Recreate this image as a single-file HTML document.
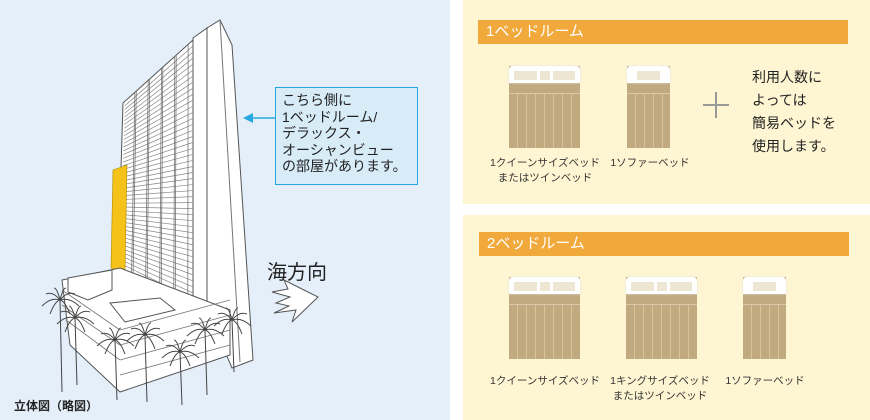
<!DOCTYPE html>
<html><head><meta charset="utf-8"><style>
body{margin:0;width:870px;height:420px;overflow:hidden;background:#fff;font-family:"Liberation Sans","Noto Sans CJK JP",sans-serif;position:relative}
.a{position:absolute}
.lp{left:0;top:0;width:450px;height:420px;background:#e4eff9}
.box{left:463px;width:407px;background:#fef6d3}
.hd{background:#f2a93b;color:#fff;font-size:15px;line-height:24px;padding-left:8px;height:24px}
.lbl{font-size:10.5px;color:#333;text-align:center;line-height:15px;white-space:nowrap}
.bed{position:absolute;background:#c2aa80}
.bed .hb{position:absolute;left:0;right:0;top:0;height:17px;background:#fff;border-radius:4px 4px 0 0;box-shadow:0 0 2px #ddd}
.bed .p{position:absolute;top:5px;height:9px;background:#ece6d3}
.bed .st{position:absolute;left:0;right:0;top:27px;bottom:0;border-top:1px solid #d9c9a8;background:repeating-linear-gradient(90deg,#c2aa80 0 8px,#d6c49f 8px 9px)}
</style></head><body>
<div class="a lp"></div>
<svg id="bld" class="a" style="left:0;top:0" width="450" height="420" viewBox="0 0 450 420">
<polygon points="207,28 220,20 232,45 253,360 232,368 207,310" fill="#fff" stroke="#555" stroke-width="1"/>
<line x1="220" y1="20" x2="240" y2="362" stroke="#777"/>
<polygon points="193,38 207,28 207,310 193,305" fill="#fff" stroke="#555"/>
<polygon points="123,103 193,40 193,305 118,268" fill="#fff" stroke="#555"/>
<g id="fac" stroke="#888" stroke-width=".7"></g>
<polygon points="113,170 127,165 125,272 111,268" fill="#f5c21a" stroke="#b08a00" stroke-width=".6"/>
<polygon points="62,280 120,268 230,310 230,355 120,392 70,345" fill="#fff" stroke="#555"/>
<polygon points="68,278 112,270 112,290 88,300 68,292" fill="#fff" stroke="#555"/>
<polygon points="110,303 160,298 175,310 125,322" fill="#fff" stroke="#555"/>
<g stroke="#777" stroke-width=".8" fill="none">
<path d="M120,330 L230,300 M120,345 L230,315 M120,360 L230,330 M120,375 L230,345"/>
<path d="M62,290 L120,330 M62,305 L120,345 M66,320 L120,360"/>
</g>
<g id="palms" stroke="#444" fill="none" stroke-width="1"></g>
<polygon points="272,292 288,289 284,280 318,297 292,322 296,310 274,313 289,306 276,303 290,297" fill="#fff" stroke="#555"/>
<line x1="275" y1="118" x2="250" y2="118" stroke="#29a8e0" stroke-width="1.5"/>
<polygon points="243,118 253,113 253,123" fill="#29a8e0"/>
</svg>
<script>
(function(){
var g=document.getElementById('fac'),s='';
for(var i=1;i<44;i++){var t=i/44;var lx=123-5*t,ly=103+165*t,ry=40+265*t;s+='<line x1="'+(lx+2)+'" y1="'+(ly-1)+'" x2="193" y2="'+ry+'"/>';}
[0.17,0.19,0.36,0.38,0.55,0.57,0.74,0.76,0.93].forEach(function(f){var x=123+70*f;var yt=103-63*f,yb=268+37*f;s+='<line x1="'+x+'" y1="'+yt+'" x2="'+(x-4*(1-f))+'" y2="'+yb+'" stroke="#666"/>';});
g.innerHTML=s;
var p=document.getElementById('palms'),q='';
[[60,300,392],[75,318,385],[115,340,400],[145,335,402],[180,352,405],[205,330,395],[232,320,372]].forEach(function(a){var x=a[0],y=a[1];
q+='<path d="M'+x+','+y+' L'+(x+2)+','+a[2]+'"/>';
[[-18,6],[-14,-6],[-6,-12],[6,-12],[15,-6],[19,6],[-10,14],[10,14]].forEach(function(d){q+='<path d="M'+x+','+y+' q'+(d[0]/2)+','+(d[1]/2-6)+' '+d[0]+','+d[1]+'"/>';});});
p.innerHTML=q;
})();
</script>
<div class="a" style="left:275px;top:87px;border:1.5px solid #29a8e0;background:#d8ecf8;font-size:14px;line-height:16.5px;color:#222;padding:4px 0 0 6px;box-sizing:border-box;width:143px;height:98px">こちら側に<br>1ベッドルーム/<br>デラックス・<br>オーシャンビュー<br>の部屋があります。</div>
<div class="a" style="left:267px;top:256px;font-size:20px;color:#222">海方向</div>
<div class="a" style="left:14px;top:397px;font-size:12px;font-weight:bold;color:#222">立体図（略図）</div>

<div class="a box" style="top:0;height:204px"></div>
<div class="a box" style="top:215px;height:205px"></div>
<div class="a hd" style="left:478px;top:20px;width:362px">1ベッドルーム</div>
<div class="a hd" style="left:479px;top:232px;width:362px">2ベッドルーム</div>

<div class="bed" style="left:509px;top:66px;width:71px;height:82px"><div class="hb"><div class="p" style="left:5px;width:23px"></div><div class="p" style="left:31px;width:10px"></div><div class="p" style="left:44px;width:22px"></div></div><div class="st"></div></div>
<div class="bed" style="left:627px;top:66px;width:43px;height:82px"><div class="hb"><div class="p" style="left:10px;width:23px"></div></div><div class="st"></div></div>
<div class="a" style="left:703px;top:104px;width:26px;height:2px;background:#999"></div>
<div class="a" style="left:715px;top:92px;width:2px;height:26px;background:#999"></div>
<div class="a" style="left:752px;top:66px;font-size:14px;line-height:23px;color:#222">利用人数に<br>よっては<br>簡易ベッドを<br>使用します。</div>
<div class="a lbl" style="left:485px;top:156px;width:120px">1クイーンサイズベッド<br>またはツインベッド</div>
<div class="a lbl" style="left:600px;top:156px;width:100px">1ソファーベッド</div>

<div class="bed" style="left:509px;top:277px;width:71px;height:82px"><div class="hb"><div class="p" style="left:5px;width:23px"></div><div class="p" style="left:31px;width:10px"></div><div class="p" style="left:44px;width:22px"></div></div><div class="st"></div></div>
<div class="bed" style="left:626px;top:277px;width:71px;height:82px"><div class="hb"><div class="p" style="left:5px;width:23px"></div><div class="p" style="left:31px;width:10px"></div><div class="p" style="left:44px;width:22px"></div></div><div class="st"></div></div>
<div class="bed" style="left:743px;top:277px;width:43px;height:82px"><div class="hb"><div class="p" style="left:10px;width:23px"></div></div><div class="st"></div></div>
<div class="a lbl" style="left:485px;top:374px;width:120px">1クイーンサイズベッド</div>
<div class="a lbl" style="left:600px;top:374px;width:120px">1キングサイズベッド<br>またはツインベッド</div>
<div class="a lbl" style="left:715px;top:374px;width:100px">1ソファーベッド</div>
</body></html>
